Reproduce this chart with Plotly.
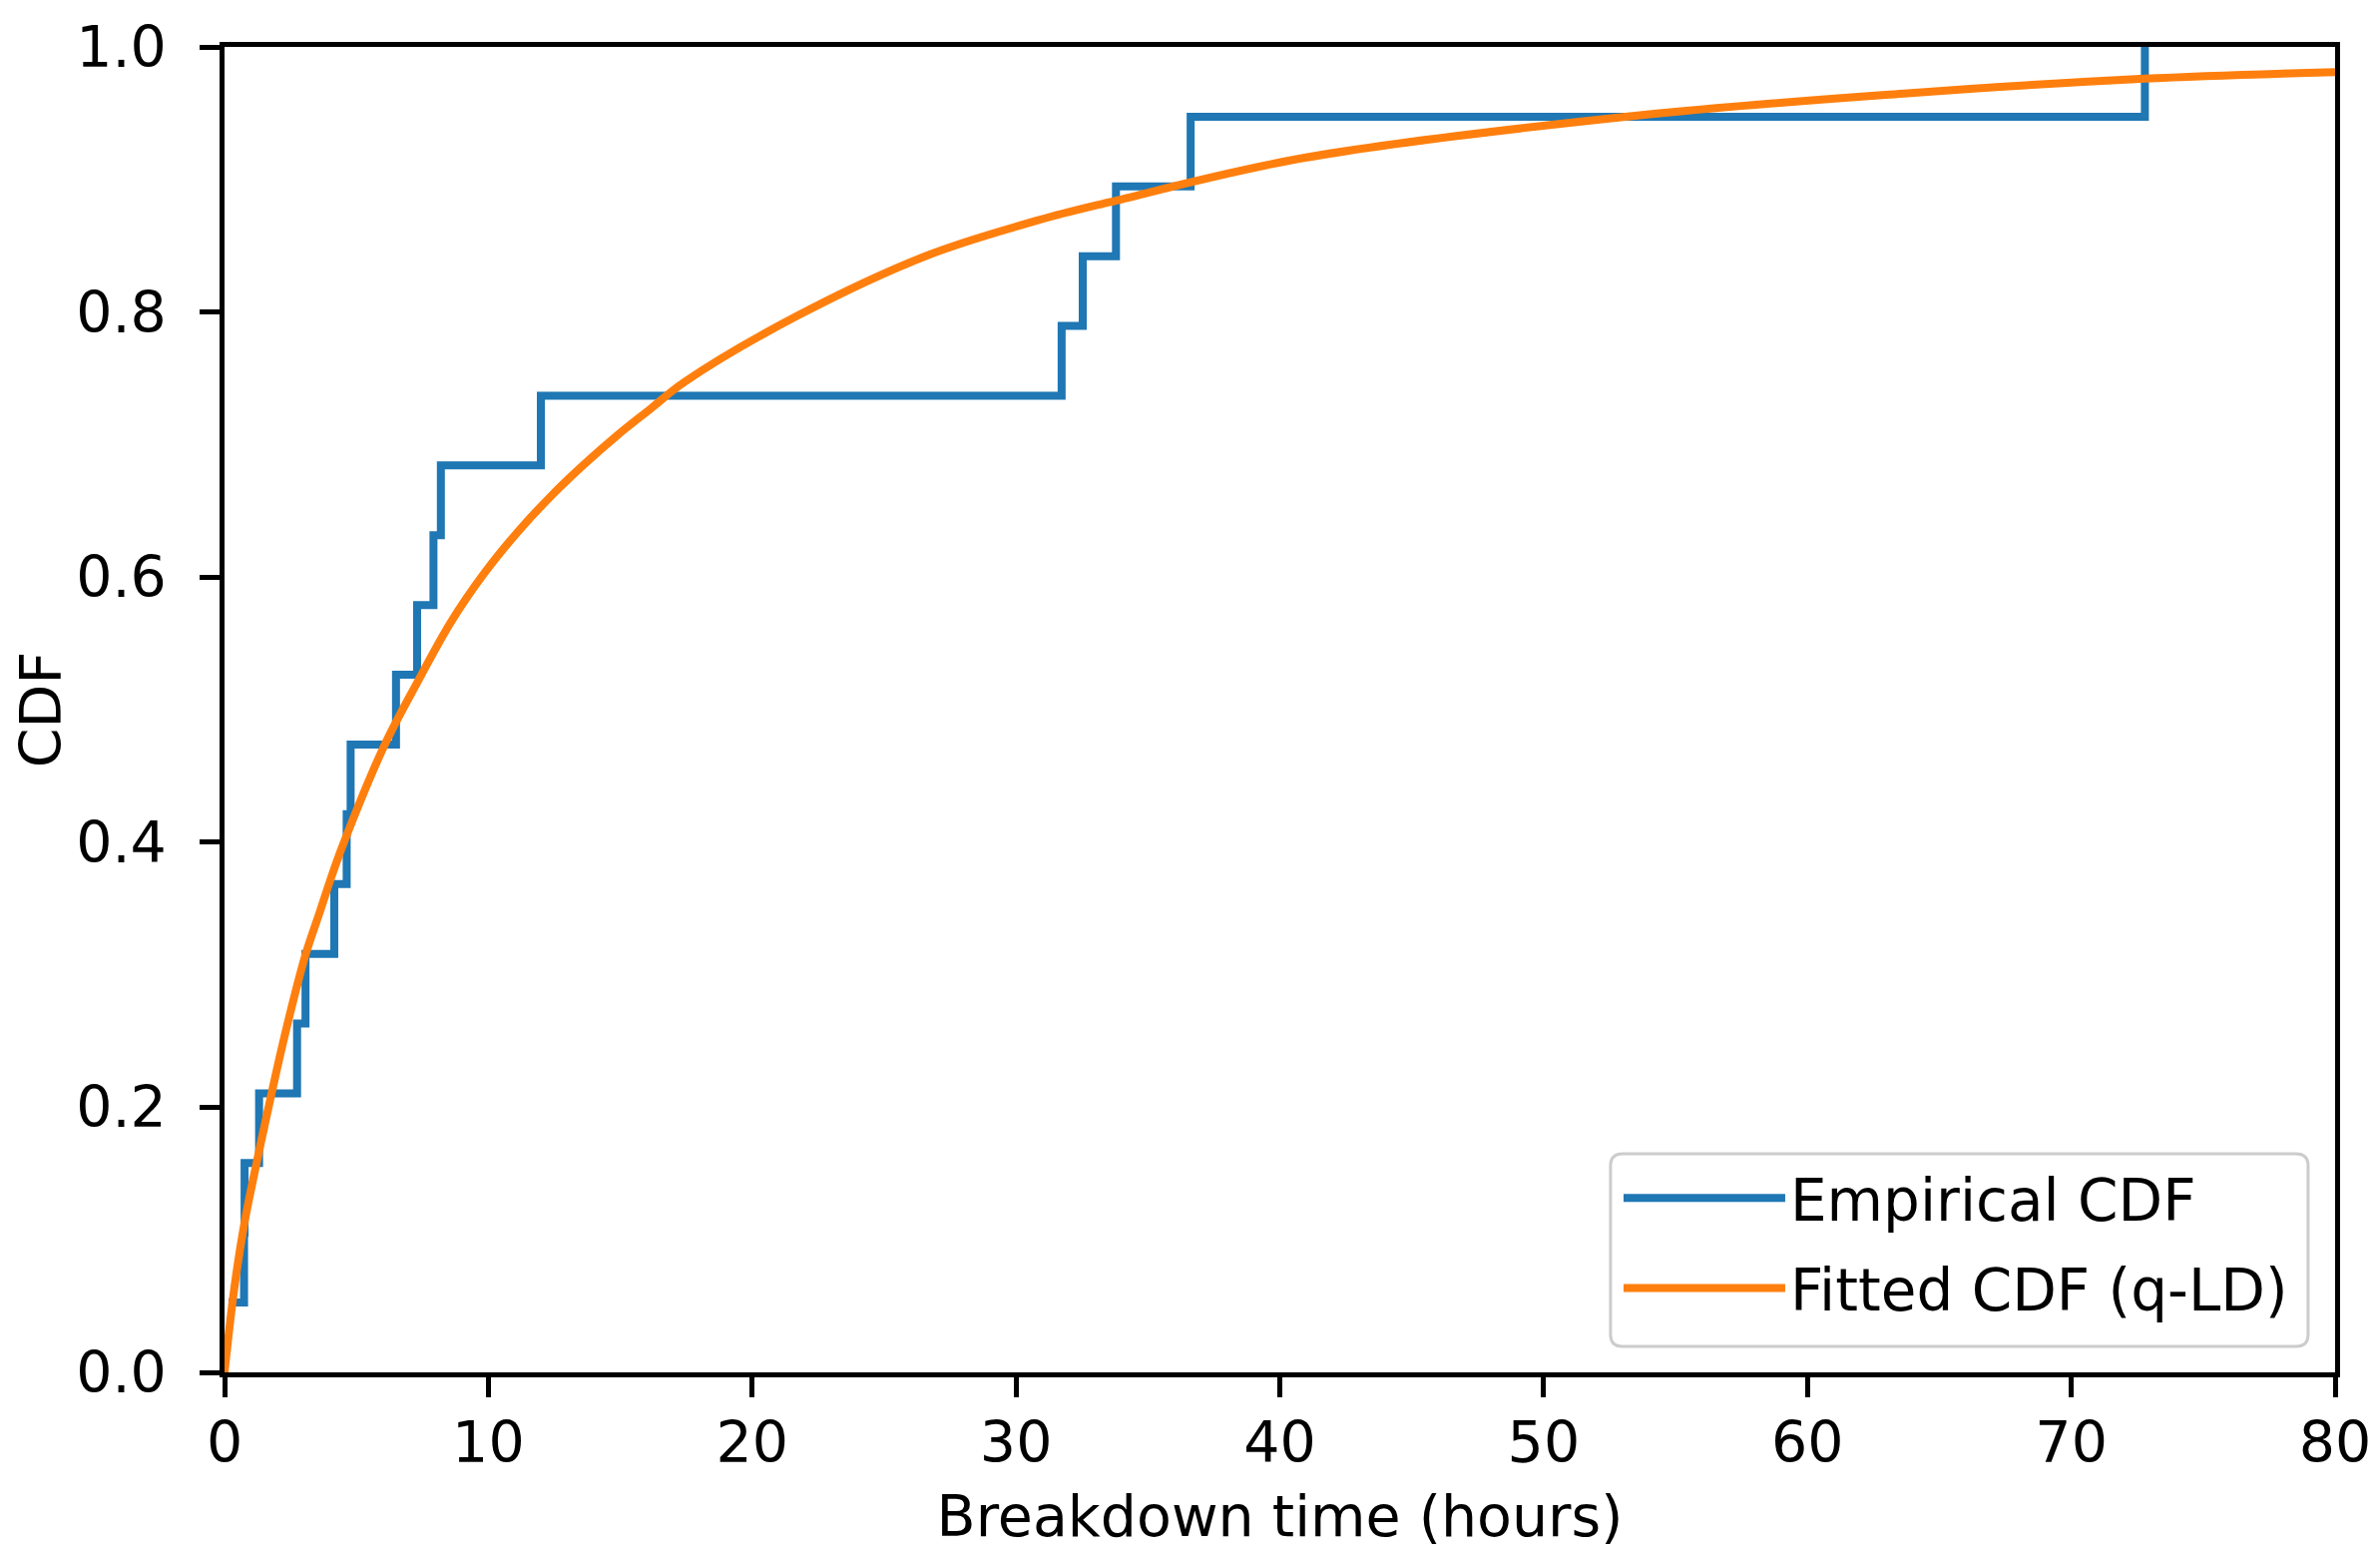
import numpy as np
import plotly.graph_objects as go

# Observed breakdown times (hours), read from the empirical step function
breakdown_times = [0.15, 0.74, 0.76, 1.31, 2.75, 3.07, 4.16, 4.63, 4.78, 6.50,
                   7.30, 7.92, 8.20, 11.99, 31.73, 32.53, 33.79, 36.62, 72.79]

# Fitted q-LD CDF
fit_x = [0, 0.36, 0.74, 1.12, 1.56, 2.0, 2.5, 3.07, 3.64, 4.02, 4.49, 6.06, 7.32,
         8.58, 9.85, 11.11, 12.37, 13.63, 14.89, 16.15, 17.42, 21.7, 26.68, 30.8,
         33.57, 40.84, 53.46, 63.79, 72.78, 80]
fit_cdf = [0, 0.062, 0.111, 0.149, 0.190, 0.230, 0.272, 0.315, 0.349, 0.372, 0.398,
           0.473, 0.521, 0.566, 0.603, 0.634, 0.661, 0.685, 0.707, 0.727, 0.747,
           0.797, 0.843, 0.869, 0.883, 0.916, 0.948, 0.965, 0.976, 0.981]

x_ticks = [0, 10, 20, 30, 40, 50, 60, 70, 80]
y_ticks = [0.0, 0.2, 0.4, 0.6, 0.8, 1.0]

xs = np.sort(np.array(breakdown_times))
ecdf = np.arange(1, len(xs) + 1) / len(xs)

FONT = "DejaVu Sans"
FS = 57

fig = go.Figure()
fig.add_trace(go.Scatter(x=xs, y=ecdf, mode="lines", line_shape="hv",
                         line=dict(color="#1f77b4", width=8),
                         name="Empirical CDF", legendgroup="a"))
fig.add_trace(go.Scatter(x=fit_x, y=fit_cdf, mode="lines", line_shape="spline",
                         line=dict(color="#ff7f0e", width=8, smoothing=1.0),
                         name="Fitted CDF (q-LD)", legendgroup="b"))

W, H = 2377, 1554
L, R, T, B = 217, 45, 39, 187
PW, PH = W - L - R, H - T - B

# legend frame (rounded box) in paper coordinates
bx0, bx1, by0, by1 = 0.6567, 0.9872, 0.0196, 0.1649
rx, ry = 12 / PW, 12 / PH
frame = (f"M{bx0+rx},{by0} L{bx1-rx},{by0} Q{bx1},{by0} {bx1},{by0+ry} "
         f"L{bx1},{by1-ry} Q{bx1},{by1} {bx1-rx},{by1} L{bx0+rx},{by1} "
         f"Q{bx0},{by1} {bx0},{by1-ry} L{bx0},{by0+ry} Q{bx0},{by0} {bx0+rx},{by0} Z")

fig.update_layout(
    width=W, height=H,
    margin=dict(l=L, r=R, t=T, b=B, autoexpand=False),
    paper_bgcolor="white", plot_bgcolor="white",
    font=dict(family=FONT, size=FS, color="black"),
    showlegend=True,
    legend=dict(x=0.6605, y=0.1649, xanchor="left", yanchor="top",
                bgcolor="rgba(0,0,0,0)", borderwidth=0,
                font=dict(size=58, family=FONT),
                itemwidth=162, tracegroupgap=12),
    shapes=[dict(type="path", path=frame, xref="paper", yref="paper",
                 line=dict(color="#cccccc", width=3),
                 fillcolor="rgba(255,255,255,0.8)", layer="above")],
)
fig.update_xaxes(range=[0, 80], tickvals=x_ticks, ticktext=[str(v) for v in x_ticks],
                 showgrid=False, zeroline=False, showline=True, linecolor="black",
                 linewidth=4.5, mirror=True, ticks="outside", ticklen=20, tickwidth=4.5,
                 tickcolor="black", ticklabelstandoff=-3,
                 title=dict(text="Breakdown time (hours)", standoff=23,
                            font=dict(size=FS, family=FONT)),
                 automargin=False)
fig.update_yaxes(range=[0, 1], tickvals=y_ticks, ticktext=[f"{v:.1f}" for v in y_ticks],
                 showgrid=False, zeroline=False, showline=True, linecolor="black",
                 linewidth=4.5, mirror=True, ticks="outside", ticklen=20, tickwidth=4.5,
                 tickcolor="black", ticklabelstandoff=22,
                 title=dict(text="CDF", standoff=7, font=dict(size=FS, family=FONT)),
                 automargin=False)

fig.write_html("out.html")
